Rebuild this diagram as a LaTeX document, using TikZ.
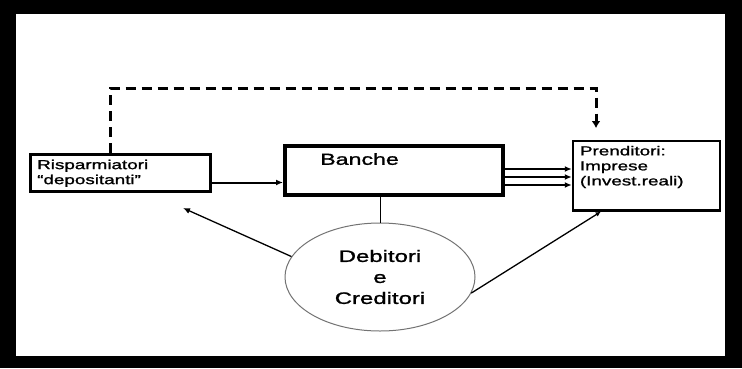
\documentclass[tikz,border=0pt]{standalone}
\usepackage{fontspec}
\setmainfont{Liberation Sans}[FakeStretch=1.45,FakeBold=1.3]
\usetikzlibrary{arrows.meta,positioning,shapes.geometric}

\tikzset{
  box/.style={draw, rectangle, inner sep=0pt},
  boxtxt/.style={inner sep=0pt, anchor=north west, align=left,
                 font=\fontsize{13}{15}\selectfont},
  arr/.style={-{Latex[length=7pt,width=6pt]}},
}

\begin{document}
\begin{tikzpicture}[x=1pt,y=-1pt]
                \fill[black] (0,0) rectangle (742,368);
                \fill[white] (16,14) rectangle (725,356);
                \useasboundingbox (0,0) rectangle (742,368);

                \node [box, line width=3pt, minimum width=180pt, minimum height=37pt]
                                        (risp) at (120.5,172.5) {};
                \node [boxtxt] (risptxt) at ([xshift=8pt,yshift=-7pt]risp.north west)
                                        {Risparmiatori\\“depositanti”};

                \node [box, line width=4pt, minimum width=218pt, minimum height=49pt]
                                        (banche) at (394,170.5) {};
                \node [boxtxt, font=\fontsize{16}{19}\selectfont] (banchetxt)
                                        at ([xshift=37pt,yshift=-9pt]banche.north west) {Banche};

                \node [box, line width=2.5pt, minimum width=147pt, minimum height=69.5pt]
                                        (prend) at (646.5,175.75) {};
                \node [boxtxt] (prendtxt) at ([xshift=8pt,yshift=-6pt]prend.north west)
                                        {Prenditori:\\Imprese\\(Invest.reali)};

                \node [ellipse, draw=black!55, line width=1pt, inner sep=0pt,
                        minimum width=190pt, minimum height=108pt, align=center,
                        font=\fontsize{16.5}{21}\selectfont]
                                        (debcred) at (380,277) {Debitori\\e\\Creditori};

                % flusso diretto
                \coordinate (dleft) at (110,88);
                \coordinate (dright) at (596,88);
                \coordinate (dend) at (596,128);
                \draw [line width=3pt, dash pattern=on 10pt off 6pt,
                        -{Latex[length=7pt,width=9pt]}]
                        (dleft |- risp.north) -- (dleft) -- (dright) -- (dend);

                \draw [arr, line width=2pt] ([yshift=-10pt]risp.east)
                        -- ([yshift=-10pt]risp.east -| banche.west);

                \foreach \yy in {169,177,185}
                    \draw [arr, line width=1.5pt] (banche.east |- 0,\yy) -- (prend.west |- 0,\yy);

                \draw [line width=1pt] (debcred.north |- banche.south) -- (debcred.north);

                \coordinate (lefttip) at (183,208);
                \draw [arr, line width=1.3pt] (debcred.167) -- (lefttip);

                \draw [-{Latex[length=5pt,width=5pt]}, line width=1.3pt] (debcred.350)
                        -- ([xshift=29pt]prend.south west);
            \end{tikzpicture}
\end{document}
